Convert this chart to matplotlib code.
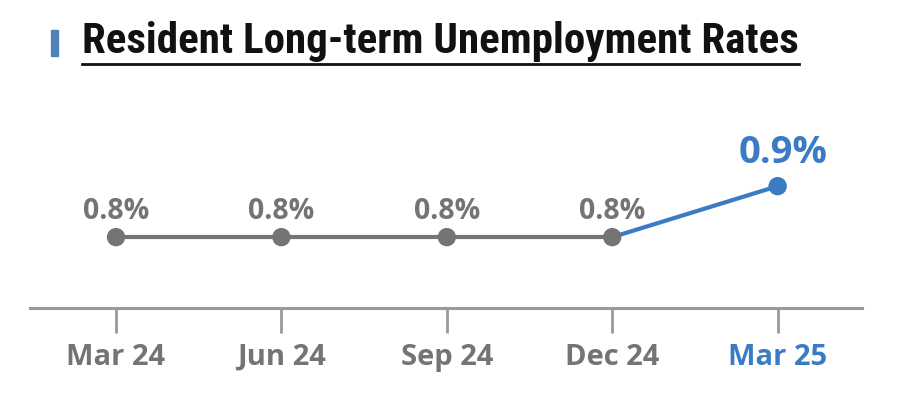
import matplotlib
matplotlib.use("Agg")
import matplotlib.pyplot as plt
from matplotlib import font_manager as fm
from matplotlib.patches import Rectangle

categories = ["Mar 24", "Jun 24", "Sep 24", "Dec 24", "Mar 25"]
rates = [0.8, 0.8, 0.8, 0.8, 0.9]
labels = ["0.8%", "0.8%", "0.8%", "0.8%", "0.9%"]
title = "Resident Long-term Unemployment Rates"

gray = "#747474"
blue = "#3b7bc4"
axis_gray = "#9a9a9a"

names = {f.name for f in fm.fontManager.ttflist}
title_font = "Liberation Sans Narrow" if "Liberation Sans Narrow" in names else "Roboto Condensed" if "Roboto Condensed" in names else "Open Sans"
label_font = "Open Sans"

fig = plt.figure(figsize=(9.04, 4.0), dpi=100)
ax = fig.add_axes([30/904, 92/400, 832/904, 208/400])

x = list(range(len(categories)))
ax.plot(x[:4], rates[:4], color=gray, lw=3, zorder=2, solid_capstyle="butt")
ax.plot(x[3:], rates[3:], color=blue, lw=3, zorder=2, solid_capstyle="butt")
ax.scatter(x[:4], rates[:4], s=175, color=gray, zorder=3, edgecolors="none")
ax.scatter(x[4:], rates[4:], s=175, color=blue, zorder=3, edgecolors="none")

for i, (xi, yi, lab) in enumerate(zip(x, rates, labels)):
    if i < 4:
        ax.annotate(lab, (xi, yi), xytext=(0, 8), textcoords="offset points",
                    ha="center", va="bottom", fontsize=20.5, fontweight="bold",
                    color=gray, family=label_font)
    else:
        ax.annotate(lab, (xi, yi), xytext=(4, 10), textcoords="offset points",
                    ha="center", va="bottom", fontsize=27.5, fontweight="bold",
                    color=blue, family=label_font)

ax.set_xlim(-0.52, 4.51)
ax.set_ylim(0.661, 1.069)
ax.set_xticks(x)
ax.set_xticklabels(categories, family=label_font, fontsize=21, fontweight="bold")
for i, t in enumerate(ax.get_xticklabels()):
    t.set_color(blue if i == 4 else gray)
ax.tick_params(axis="x", length=18, width=2, color=axis_gray, pad=7)
ax.set_yticks([])
for s in ["top", "right", "left"]:
    ax.spines[s].set_visible(False)
ax.spines["bottom"].set_color(axis_gray)
ax.spines["bottom"].set_linewidth(2.2)

fig.patches.append(Rectangle((51/904, 1 - 56/400), 7/904, 26/400,
                             transform=fig.transFigure, color="#4f81b9", figure=fig))
t = fig.text(82/904, 1 - 42/400, title, fontsize=31, fontweight="bold",
             family=title_font, va="center", ha="left", color="#111111")
fig.canvas.draw()
bb = t.get_window_extent()
fig.add_artist(plt.Line2D([bb.x0 / 904, bb.x1 / 904], [1 - 64/400, 1 - 64/400],
                          transform=fig.transFigure, color="#111111", lw=2))

fig.savefig("out.png", dpi=100)
